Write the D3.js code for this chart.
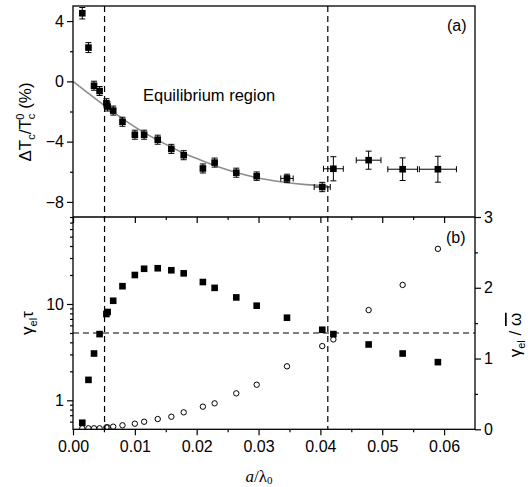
<!DOCTYPE html>
<html>
<head>
<meta charset="utf-8">
<script src="https://cdn.jsdelivr.net/npm/d3@7"></script>
<style>
  body { margin: 0; background: #fff; }
  text { font-family: "Liberation Sans", Arial, sans-serif; fill: #000; }
  .tick text { font-size: 16px; }
</style>
</head>
<body>
<div class="chart"></div>
<script>
// Data
// a/lambda0 positions shared by both panels
var xVals = [0.0015, 0.0025, 0.0034, 0.0043, 0.0054, 0.0056, 0.0065, 0.0080, 0.0100, 0.0115,
  0.0137, 0.0159, 0.0179, 0.0210, 0.0229, 0.0264, 0.0297, 0.0346, 0.0403, 0.0421,
  0.0478, 0.0533, 0.0590];

// panel (a): shift of Tc (%)
var dTc = [4.52, 2.24, -0.29, -0.64, -1.45, -1.67, -1.94, -2.68, -3.54, -3.54,
  -3.87, -4.48, -4.9, -5.78, -5.39, -6.06, -6.29, -6.44, -7.01, -5.8,
  -5.23, -5.83, -5.83];
var dTcErr = [0.38, 0.33, 0.3, 0.3, 0.3, 0.3, 0.3, 0.3, 0.3, 0.3,
  0.3, 0.3, 0.3, 0.3, 0.3, 0.3, 0.28, 0.28, 0.31, 0.8,
  0.6, 0.75, 0.86];
var xErr = [0, 0, 0, 0, 0, 0, 0, 0, 0, 0,
  0, 0, 0, 0, 0, 0, 0, 0.001, 0.0013, 0.0016,
  0.002, 0.0024, 0.003];

// gray fit line in panel (a)
var fitX = [0, 0.0025, 0.005, 0.0081, 0.0113, 0.0151, 0.0173, 0.0205, 0.0237, 0.0264, 0.0296, 0.0339, 0.0377, 0.0412];
var fitY = [0, -0.8, -1.58, -2.5, -3.35, -4.2, -4.65, -5.2, -5.7, -6.05, -6.38, -6.68, -6.85, -6.93];

// panel (b): gamma_el * tau (log, left) and gamma_el / omega-bar (right)
var gammaTau = [0.585, 1.63, 3.06, 4.87, 7.87, 8.26, 10.8, 15.3, 20.0, 23.2,
  23.5, 22.4, 20.8, 16.9, 14.7, 11.7, 9.6, 7.2, 5.4, 4.87,
  3.8, 3.06, 2.49];
var gammaOmega = [0.014, 0.014, 0.014, 0.014, 0.028, 0.028, 0.037, 0.056, 0.079, 0.107,
  0.145, 0.178, 0.24, 0.32, 0.367, 0.508, 0.63, 0.89, 1.176, 1.27,
  1.685, 2.04, 2.55];

// reference lines
var vLines = [0.0051, 0.0412];
var hLineGammaTau = 5;

// ticks
var xMajor = [0, 0.01, 0.02, 0.03, 0.04, 0.05, 0.06];
var xMinor = [0.005, 0.015, 0.025, 0.035, 0.045, 0.055];
var topMajor = [4, 0, -4, -8];
var topMinor = [2, -2, -6];
var logMajor = [1, 10];
var logMinor = [0.6, 0.7, 0.8, 0.9, 2, 3, 4, 5, 6, 7, 8, 9, 20, 30, 40, 50, 60, 70, 80];
var rightMajor = [0, 1, 2, 3];
var rightMinor = [0.5, 1.5, 2.5];

// SVG area
var svgWidth = 528;
var svgHeight = 487;
var margin = { top: 6, left: 73 };
var width = 402;
var topHeight = 211;
var botHeight = 212.3;

var svg = d3.select(".chart")
  .append("svg")
  .attr("width", svgWidth)
  .attr("height", svgHeight);

var topGroup = svg.append("g")
  .attr("transform", `translate(${margin.left}, ${margin.top})`);
var botGroup = svg.append("g")
  .attr("transform", `translate(${margin.left}, ${margin.top + topHeight})`);

// Scales
var xScale = d3.scaleLinear().domain([0, 0.065]).range([0, width]);
var yTop = d3.scaleLinear().domain([-9, 5]).range([topHeight, 0]);
var yLog = d3.scaleLog().domain([0.5, 80]).range([botHeight, 0]);
var yRight = d3.scaleLinear().domain([0, 3]).range([botHeight, 0]);

function styleAxis(g, noLabels) {
  g.select(".domain").remove();
  g.selectAll(".tick line").attr("stroke", "#000").attr("stroke-width", 1.2);
  if (noLabels) g.selectAll(".tick text").remove();
  g.selectAll(".tick text").attr("fill", "#000");
}

// ---------- panel (a) ----------
topGroup.append("g")
  .call(d3.axisLeft(yTop).tickValues(topMajor).tickSize(6).tickPadding(3).tickFormat(d3.format("d")))
  .call(g => styleAxis(g, false));
topGroup.append("g")
  .call(d3.axisLeft(yTop).tickValues(topMinor).tickSize(3))
  .call(g => styleAxis(g, true));

// fit line
var fitLine = d3.line()
  .x(d => xScale(d[0]))
  .y(d => yTop(d[1]))
  .curve(d3.curveMonotoneX);
topGroup.append("path")
  .datum(fitX.map((v, i) => [v, fitY[i]]))
  .attr("d", fitLine)
  .attr("fill", "none")
  .attr("stroke", "#8c8c8c")
  .attr("stroke-width", 1.6);

// error bars
var pts = xVals.map((v, i) => ({ x: v, y: dTc[i], ey: dTcErr[i], ex: xErr[i] }));
var errG = topGroup.append("g").attr("stroke", "#000").attr("stroke-width", 1);
pts.forEach(function(d) {
  var cx = xScale(d.x), cy = yTop(d.y);
  var y1 = yTop(d.y + d.ey), y2 = yTop(d.y - d.ey);
  errG.append("line").attr("x1", cx).attr("x2", cx).attr("y1", y1).attr("y2", y2);
  errG.append("line").attr("x1", cx - 3).attr("x2", cx + 3).attr("y1", y1).attr("y2", y1);
  errG.append("line").attr("x1", cx - 3).attr("x2", cx + 3).attr("y1", y2).attr("y2", y2);
  if (d.ex > 0) {
    var x1 = xScale(d.x - d.ex), x2 = xScale(d.x + d.ex);
    errG.append("line").attr("x1", x1).attr("x2", x2).attr("y1", cy).attr("y2", cy);
    errG.append("line").attr("x1", x1).attr("x2", x1).attr("y1", cy - 3).attr("y2", cy + 3);
    errG.append("line").attr("x1", x2).attr("x2", x2).attr("y1", cy - 3).attr("y2", cy + 3);
  }
});

topGroup.selectAll(".sqa")
  .data(pts)
  .enter()
  .append("rect")
  .attr("x", d => xScale(d.x) - 3.3)
  .attr("y", d => yTop(d.y) - 3.3)
  .attr("width", 6.6)
  .attr("height", 6.6)
  .attr("fill", "#000");

topGroup.append("text")
  .attr("x", 70)
  .attr("y", 95)
  .attr("font-size", "16.5px")
  .text("Equilibrium region");

topGroup.append("text")
  .attr("x", 374)
  .attr("y", 25)
  .attr("font-size", "16px")
  .text("(a)");

// ---------- panel (b) ----------
botGroup.append("g")
  .call(d3.axisLeft(yLog).tickValues(logMajor).tickSize(6).tickPadding(3).tickFormat(d3.format("d")))
  .call(g => styleAxis(g, false));
botGroup.append("g")
  .call(d3.axisLeft(yLog).tickValues(logMinor).tickSize(3))
  .call(g => styleAxis(g, true));

botGroup.append("g")
  .attr("transform", `translate(${width}, 0)`)
  .call(d3.axisRight(yRight).tickValues(rightMajor).tickSize(6).tickPadding(3).tickFormat(d3.format("d")))
  .call(g => styleAxis(g, false));
botGroup.append("g")
  .attr("transform", `translate(${width}, 0)`)
  .call(d3.axisRight(yRight).tickValues(rightMinor).tickSize(3))
  .call(g => styleAxis(g, true));

// bottom x axis
botGroup.append("g")
  .attr("transform", `translate(0, ${botHeight})`)
  .call(d3.axisBottom(xScale).tickValues(xMajor).tickSize(6).tickPadding(5).tickFormat(d3.format(".2f")))
  .call(g => styleAxis(g, false));
botGroup.append("g")
  .attr("transform", `translate(0, ${botHeight})`)
  .call(d3.axisBottom(xScale).tickValues(xMinor).tickSize(3))
  .call(g => styleAxis(g, true));

// ticks along the divider, pointing down into panel (b)
botGroup.append("g")
  .call(d3.axisBottom(xScale).tickValues(xMajor).tickSize(6))
  .call(g => styleAxis(g, true));
botGroup.append("g")
  .call(d3.axisBottom(xScale).tickValues(xMinor).tickSize(3))
  .call(g => styleAxis(g, true));

// open circles
botGroup.append("g")
  .attr("clip-path", "url(#clipB)")
  .selectAll("circle")
  .data(xVals.map((v, i) => ({ x: v, y: gammaOmega[i] })))
  .enter()
  .append("circle")
  .attr("cx", d => xScale(d.x))
  .attr("cy", d => yRight(d.y))
  .attr("r", 2.7)
  .attr("fill", "none")
  .attr("stroke", "#000")
  .attr("stroke-width", 1);

svg.append("clipPath").attr("id", "clipB")
  .append("rect").attr("x", 0).attr("y", 0).attr("width", width).attr("height", botHeight);

// filled squares
botGroup.selectAll(".sqb")
  .data(xVals.map((v, i) => ({ x: v, y: gammaTau[i] })))
  .enter()
  .append("rect")
  .attr("x", d => xScale(d.x) - 3.3)
  .attr("y", d => yLog(d.y) - 3.3)
  .attr("width", 6.6)
  .attr("height", 6.6)
  .attr("fill", "#000");

// horizontal dashed line at gamma*tau = 5
botGroup.append("line")
  .attr("x1", 0)
  .attr("x2", width)
  .attr("y1", yLog(hLineGammaTau))
  .attr("y2", yLog(hLineGammaTau))
  .attr("stroke", "#000")
  .attr("stroke-width", 1.2)
  .attr("stroke-dasharray", "6,4");

botGroup.append("text")
  .attr("x", 373)
  .attr("y", 26)
  .attr("font-size", "16px")
  .text("(b)");

// vertical dashed lines through both panels
topGroup.selectAll(".vline")
  .data(vLines)
  .enter()
  .append("line")
  .attr("x1", d => xScale(d))
  .attr("x2", d => xScale(d))
  .attr("y1", 0)
  .attr("y2", topHeight + botHeight)
  .attr("stroke", "#000")
  .attr("stroke-width", 1.2)
  .attr("stroke-dasharray", "6,4");

// frames
var frame = svg.append("g")
  .attr("fill", "none")
  .attr("stroke", "#000")
  .attr("stroke-width", 1.3);
frame.append("rect")
  .attr("x", margin.left)
  .attr("y", margin.top)
  .attr("width", width)
  .attr("height", topHeight + botHeight);
frame.append("line")
  .attr("x1", margin.left)
  .attr("x2", margin.left + width)
  .attr("y1", margin.top + topHeight)
  .attr("y2", margin.top + topHeight);

// axis labels
var lblA = svg.append("text")
  .attr("transform", "translate(31, 122) rotate(-90)")
  .attr("text-anchor", "middle")
  .attr("font-size", "17px");
lblA.append("tspan").text("\u0394T");
lblA.append("tspan").attr("font-size", "11px").attr("dy", 4).text("c");
lblA.append("tspan").attr("dy", -4).text("/T");
lblA.append("tspan").attr("font-size", "11px").attr("dy", 4).text("c");
lblA.append("tspan").attr("font-size", "11px").attr("dx", -6).attr("dy", -11).text("0");
lblA.append("tspan").attr("dy", 7).text(" (%)");

var lblB = svg.append("text")
  .attr("transform", "translate(33, 323) rotate(-90)")
  .attr("text-anchor", "middle")
  .attr("font-size", "17px");
lblB.append("tspan").text("\u03b3");
lblB.append("tspan").attr("font-size", "11px").attr("dy", 4).text("el");
lblB.append("tspan").attr("dy", -4).text("\u03c4");

var lblC = svg.append("text")
  .attr("transform", "translate(521, 335) rotate(-90)")
  .attr("text-anchor", "middle")
  .attr("font-size", "17px");
lblC.append("tspan").text("\u03b3");
lblC.append("tspan").attr("font-size", "11px").attr("dy", 4).text("el");
lblC.append("tspan").attr("dy", -4).text(" / ");
lblC.append("tspan").attr("text-decoration", "overline").text("\u03c9");

var lblX = svg.append("text")
  .attr("x", 259)
  .attr("y", 482)
  .attr("text-anchor", "middle")
  .attr("font-size", "17px")
  .style("font-family", "'Liberation Serif', 'Times New Roman', serif");
lblX.append("tspan").attr("font-style", "italic").text("a");
lblX.append("tspan").text("/\u03bb");
lblX.append("tspan").attr("font-size", "11px").attr("dy", 2).text("0");
</script>
</body>
</html>
